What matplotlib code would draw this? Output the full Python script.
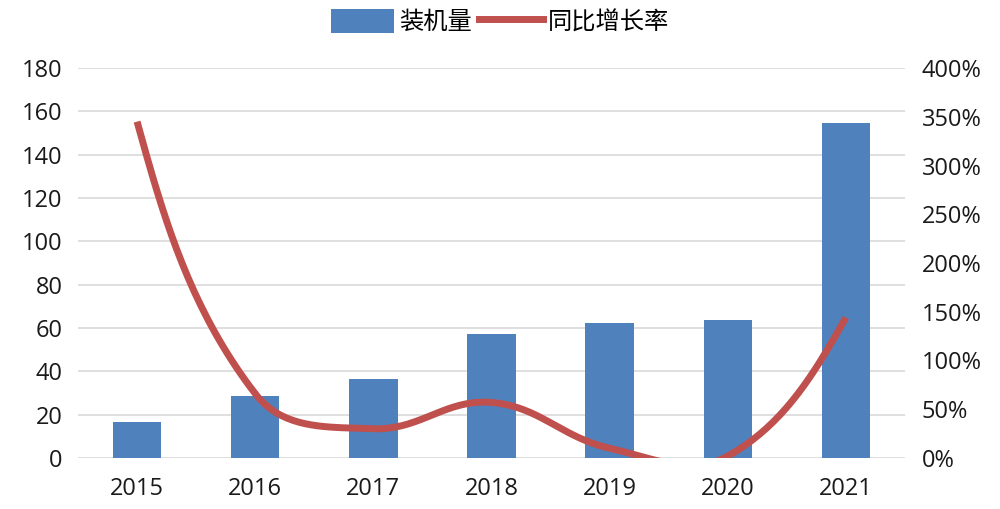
import numpy as np
import matplotlib
matplotlib.use("Agg")
import matplotlib.pyplot as plt
from matplotlib.lines import Line2D
from matplotlib.patches import Patch
from matplotlib.ticker import FuncFormatter

plt.rcParams['font.family'] = ['Open Sans', 'Noto Sans CJK SC', 'DejaVu Sans']

years = ['2015', '2016', '2017', '2018', '2019', '2020', '2021']
installed = [16.6, 28.6, 36.5, 57.2, 62.3, 63.7, 154.6]
growth = [345, 66, 30, 57, 10, 2, 144]  # %

BAR_COLOR = '#4f81bd'
LINE_COLOR = '#c0504d'

# pixel sizes of one x unit / one % unit, for length-weighted smoothing
SX, SY = 118.1, 0.975


def smooth(x, y, n=40):
    # Excel-like smoothed line: bezier segments, tangents split by segment length
    P = np.column_stack([np.asarray(x, float) * SX, np.asarray(y, float) * SY])
    m = len(P)
    cin = P.copy()
    cout = P.copy()
    for i in range(1, m - 1):
        d0 = np.linalg.norm(P[i] - P[i - 1])
        d1 = np.linalg.norm(P[i + 1] - P[i])
        T = P[i + 1] - P[i - 1]
        cin[i] = P[i] - T * d0 / (d0 + d1) / 2.5
        cout[i] = P[i] + T * d1 / (d0 + d1) / 2.5
    cout[0] = P[0] + (cin[1] - P[0]) / 2
    cin[-1] = P[-1] + (cout[-2] - P[-1]) / 2
    t = np.linspace(0, 1, n)[:, None]
    pts = []
    for i in range(m - 1):
        seg = (1 - t) ** 3 * P[i] + 3 * (1 - t) ** 2 * t * cout[i] \
            + 3 * (1 - t) * t ** 2 * cin[i + 1] + t ** 3 * P[i + 1]
        pts.append(seg)
    pts = np.vstack(pts)
    return pts[:, 0] / SX, pts[:, 1] / SY


fig = plt.figure(figsize=(10, 5.09), dpi=100)
ax = fig.add_axes([0.078, 0.1002, 0.827, 0.7662])
x = np.arange(len(years))

ax.bar(x, installed, width=0.41, color=BAR_COLOR, zorder=2)
ax.set_xlim(-0.5, len(years) - 0.5)
ax.set_ylim(0, 180)
ax.set_yticks(np.arange(0, 181, 20))
ax.set_xticks(x)
ax.set_xticklabels(years)
ax.grid(axis='y', color='#d9d9d9', linewidth=1.2, zorder=0)
ax.set_axisbelow(True)
for s in ax.spines.values():
    s.set_visible(False)
ax.tick_params(length=0, labelsize=17, colors='#1a1a1a')
ax.tick_params(axis='y', pad=11)
ax.tick_params(axis='x', pad=14)

ax2 = ax.twinx()
sx, sy = smooth(x, growth)
ax2.plot(sx, sy, color=LINE_COLOR, linewidth=5, solid_capstyle='butt', zorder=3)
ax2.set_ylim(0, 400)
ax2.set_yticks(np.arange(0, 401, 50))
ax2.yaxis.set_major_formatter(FuncFormatter(lambda v, p: f'{v:.0f}%'))
for s in ax2.spines.values():
    s.set_visible(False)
ax2.tick_params(length=0, labelsize=17, colors='#1a1a1a', pad=12)

handles = [Patch(facecolor=BAR_COLOR), Line2D([0], [0], color=LINE_COLOR, linewidth=5)]
fig.legend(handles, ['装机量', '同比增长率'], loc='upper center', bbox_to_anchor=(0.5, 1.025),
           ncol=2, frameon=False, handlelength=2.6, handleheight=1.1,
           columnspacing=0.3, handletextpad=0.2,
           prop={'family': ['Noto Sans CJK SC', 'DejaVu Sans'], 'size': 17.5})

fig.savefig('out.png', dpi=100)
